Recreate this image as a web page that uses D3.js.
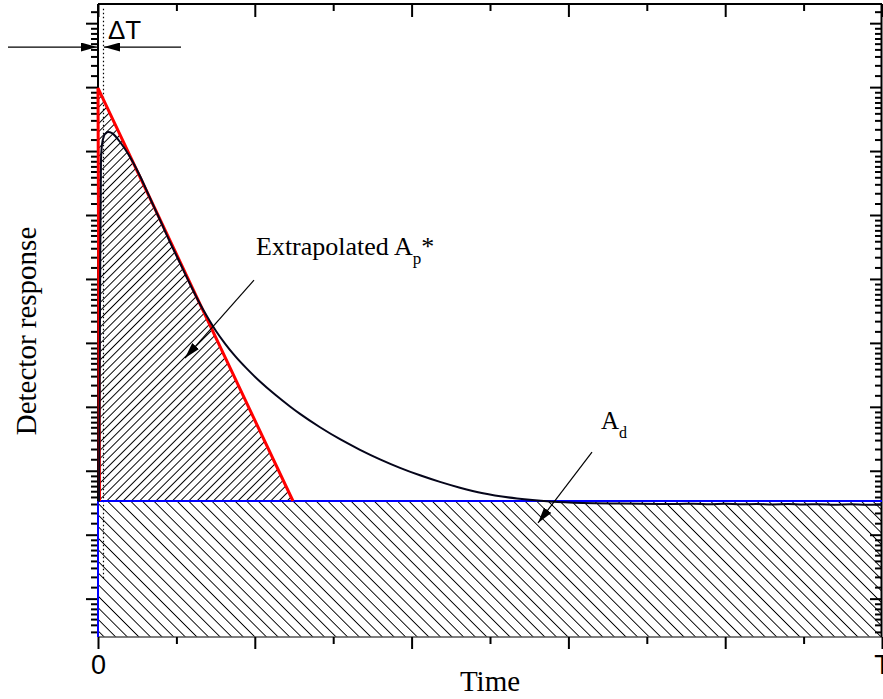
<!DOCTYPE html>
<html>
<head>
<meta charset="utf-8">
<script src="https://cdn.jsdelivr.net/npm/d3@7"></script>
<style>
  html, body { margin: 0; padding: 0; background: #fff; }
  svg { display: block; }
</style>
</head>
<body>
<svg id="chart" width="883" height="699"></svg>
<script>
// ---------------- data ----------------
const xMajorTicks = [0, 0.2, 0.4, 0.6, 0.8, 1.0];
const xTickLabels = ["0", "", "", "", "", "T"];
const xMinorTicks = [0.1, 0.3, 0.5, 0.7, 0.9];
const yMajorTicks = [1, 2, 3, 4, 5, 6, 7, 8, 9, 10];
const yMinorFractions = [0.18, 0.34, 0.48, 0.59, 0.68, 0.76, 0.84, 0.92];

// detector signal (time, response)
const sigX = [0.0, 0.0013, 0.0026, 0.0038, 0.0051, 0.0077, 0.0102, 0.0128, 0.0179, 0.0230, 0.0281,
  0.0344, 0.0408, 0.0536, 0.0663, 0.0791, 0.0918, 0.1046, 0.1173, 0.1301, 0.1403, 0.1505, 0.1620,
  0.1747, 0.1901, 0.2066, 0.2258, 0.2449, 0.2577, 0.2832, 0.3087, 0.3342, 0.3597, 0.3852, 0.4107,
  0.4362, 0.4617, 0.4911, 0.5344, 0.5765, 0.6186, 0.6658, 0.7168,
  0.74, 0.76, 0.78, 0.80, 0.82, 0.84, 0.86, 0.88, 0.90, 0.92, 0.94, 0.96, 0.98, 1.0];
const sigY = [2.53, 2.53, 5.67, 7.86, 8.10, 8.24, 8.28, 8.298, 8.282, 8.220, 8.142,
  8.032, 7.907, 7.610, 7.266, 6.922, 6.578, 6.249, 5.921, 5.608, 5.389, 5.186, 4.989,
  4.796, 4.593, 4.396, 4.191, 4.005, 3.889, 3.680, 3.493, 3.328, 3.179, 3.046, 2.929,
  2.826, 2.735, 2.647, 2.566, 2.519, 2.496, 2.488, 2.482,
  2.480, 2.485, 2.477, 2.483, 2.475, 2.481, 2.474, 2.479, 2.472, 2.477, 2.470, 2.476, 2.469, 2.472];

const baseline = 2.527;                    // blue baseline level
const extrapX = [0.0019, 0.0, 0.2487];     // red extrapolated triangle
const extrapY = [2.527, 8.986, 2.527];
const dottedX = 0.0070;                    // ΔT marker
const dottedY = [1.32, 10.24];

// ---------------- setup ----------------
const svg = d3.select("#chart");
const x = d3.scaleLinear().domain([0, 1]).range([98, 882]);
const y = d3.scaleLinear().domain([0.4, 10.3]).range([637, 4]);

const defs = svg.append("defs");
defs.append("pattern")
  .attr("id", "hatchFwd").attr("patternUnits", "userSpaceOnUse")
  .attr("width", 5.8).attr("height", 10)
  .attr("patternTransform", "rotate(45)")
  .append("line").attr("x1", 0).attr("y1", -1).attr("x2", 0).attr("y2", 11)
  .attr("stroke", "#000").attr("stroke-width", 1).attr("shape-rendering", "crispEdges");
defs.append("pattern")
  .attr("id", "hatchBack").attr("patternUnits", "userSpaceOnUse")
  .attr("width", 8.2).attr("height", 10)
  .attr("patternTransform", "rotate(-45)")
  .append("line").attr("x1", 0).attr("y1", -1).attr("x2", 0).attr("y2", 11)
  .attr("stroke", "#000").attr("stroke-width", 1).attr("shape-rendering", "crispEdges");

defs.append("marker")
  .attr("id", "arrowHead").attr("viewBox", "0 0 16 9").attr("refX", 16).attr("refY", 4.5)
  .attr("markerWidth", 16).attr("markerHeight", 9).attr("markerUnits", "userSpaceOnUse")
  .attr("orient", "auto")
  .append("path").attr("d", "M0,0 L16,4.5 L0,9 Z").attr("fill", "#000");

// ---------------- hatched areas ----------------
svg.append("rect")
  .attr("x", x(0)).attr("y", y(baseline))
  .attr("width", x(1) - x(0)).attr("height", y(0.4) - y(baseline))
  .attr("fill", "url(#hatchBack)");

const tri = extrapX.map((v, i) => [x(v), y(extrapY[i])]);
svg.append("path")
  .attr("d", "M" + tri.map(p => p.join(",")).join("L") + "Z")
  .attr("fill", "url(#hatchFwd)");

// ---------------- dotted ΔT line ----------------
svg.append("line")
  .attr("x1", x(dottedX)).attr("x2", x(dottedX))
  .attr("y1", y(dottedY[0])).attr("y2", y(dottedY[1]))
  .attr("stroke", "#000").attr("stroke-width", 1.2).attr("stroke-dasharray", "1.5,2.5");

// ---------------- axes frame ----------------
const frame = svg.append("g");
frame.append("line").attr("x1", x(0)).attr("x2", x(1)).attr("y1", y(10.3)).attr("y2", y(10.3))
  .attr("stroke", "#000").attr("stroke-width", 2);
frame.append("line").attr("x1", x(0)).attr("x2", x(1)).attr("y1", y(0.4)).attr("y2", y(0.4))
  .attr("stroke", "#555").attr("stroke-width", 1.5);
frame.append("line").attr("x1", x(0)).attr("x2", x(0)).attr("y1", y(0.4)).attr("y2", y(10.3))
  .attr("stroke", "#000").attr("stroke-width", 2);
frame.append("line").attr("x1", x(1) - 0.5).attr("x2", x(1) - 0.5).attr("y1", y(0.4)).attr("y2", y(10.3))
  .attr("stroke", "#000").attr("stroke-width", 2);

// y minor ticks
const yMinor = [];
for (let n = 0; n <= 10; n++) yMinorFractions.forEach(f => {
  const v = n + f; if (v > 0.4 && v < 10.3) yMinor.push(v);
});

function tickAxis(axisFn, scale, values, size, transform, labels) {
  const ax = axisFn(scale).tickValues(values).tickSize(size).tickSizeOuter(0);
  if (labels) ax.tickFormat((d, i) => labels[i]); else ax.tickFormat("");
  const g = svg.append("g").attr("transform", transform).call(ax);
  g.select(".domain").remove();
  g.selectAll(".tick line").attr("stroke", "#000").attr("stroke-width", 2);
  return g;
}
// left (outside)
tickAxis(d3.axisLeft, y, yMajorTicks, 12, `translate(${x(0)},0)`);
tickAxis(d3.axisLeft, y, yMinor, 7, `translate(${x(0)},0)`);
// right (inside)
tickAxis(d3.axisRight, y, yMajorTicks, -12, `translate(${x(1)},0)`);
tickAxis(d3.axisRight, y, yMinor, -7, `translate(${x(1)},0)`);
// bottom (outside)
const bx = tickAxis(d3.axisBottom, x, xMajorTicks, 12, `translate(0,${y(0.4)})`, xTickLabels);
bx.selectAll(".tick text")
  .attr("font-family", "'Liberation Sans', Arial, sans-serif")
  .attr("font-size", 27).attr("fill", "#000").attr("dy", 0).attr("y", 37);
tickAxis(d3.axisBottom, x, xMinorTicks, 7, `translate(0,${y(0.4)})`);
// top (inside)
tickAxis(d3.axisTop, x, xMajorTicks, -13, `translate(0,${y(10.3)})`);
tickAxis(d3.axisTop, x, xMinorTicks, -7, `translate(0,${y(10.3)})`);

// ---------------- baseline (blue) ----------------
svg.append("line")
  .attr("x1", x(0)).attr("x2", x(1)).attr("y1", y(baseline)).attr("y2", y(baseline))
  .attr("stroke", "#0000ff").attr("stroke-width", 2);
svg.append("line")
  .attr("x1", x(0)).attr("x2", x(0)).attr("y1", y(baseline)).attr("y2", y(0.4))
  .attr("stroke", "#0000ff").attr("stroke-width", 2);

// ---------------- red extrapolation ----------------
svg.append("path")
  .attr("d", "M" + tri.map(p => p.join(",")).join("L"))
  .attr("fill", "none").attr("stroke", "#ff0000").attr("stroke-width", 3)
  .attr("stroke-linejoin", "miter");

// ---------------- signal curve ----------------
const line = d3.line().x((d, i) => x(sigX[i])).y(d => y(d)).curve(d3.curveMonotoneX);
svg.append("path")
  .attr("d", line(sigY))
  .attr("fill", "none").attr("stroke", "#05051a").attr("stroke-width", 2);

// ---------------- annotations ----------------
const serif = "'Liberation Serif', 'Times New Roman', serif";
const sans = "'Liberation Sans', Arial, sans-serif";

// ΔT arrows
svg.append("line").attr("x1", 8).attr("y1", y(9.627)).attr("x2", 97).attr("y2", y(9.627))
  .attr("stroke", "#000").attr("stroke-width", 1.2).attr("marker-end", "url(#arrowHead)");
svg.append("line").attr("x1", 181).attr("y1", y(9.627)).attr("x2", 104).attr("y2", y(9.627))
  .attr("stroke", "#000").attr("stroke-width", 1.2).attr("marker-end", "url(#arrowHead)");
svg.append("text").attr("x", 108).attr("y", 39)
  .attr("font-family", sans).attr("font-size", 26).text("ΔT");

// Extrapolated A_p*
const t1 = svg.append("text").attr("x", 256).attr("y", 255)
  .attr("font-family", serif).attr("font-size", 26);
t1.append("tspan").text("Extrapolated A");
t1.append("tspan").attr("font-size", 17).attr("dy", 9).text("p");
t1.append("tspan").attr("dy", -9).text("*");
svg.append("line").attr("x1", x(0.1990)).attr("y1", y(5.983)).attr("x2", x(0.1110)).attr("y2", y(4.763))
  .attr("stroke", "#000").attr("stroke-width", 1.2).attr("marker-end", "url(#arrowHead)");

// A_d
const t2 = svg.append("text").attr("x", 601).attr("y", 429)
  .attr("font-family", serif).attr("font-size", 25);
t2.append("tspan").text("A");
t2.append("tspan").attr("font-size", 16).attr("dy", 9).text("d");
svg.append("line").attr("x1", x(0.6301)).attr("y1", y(3.293)).attr("x2", x(0.5612)).attr("y2", y(2.183))
  .attr("stroke", "#000").attr("stroke-width", 1.2).attr("marker-end", "url(#arrowHead)");

// axis titles
svg.append("text").attr("x", 490).attr("y", 691).attr("text-anchor", "middle")
  .attr("font-family", serif).attr("font-size", 29).text("Time");
svg.append("text").attr("transform", "translate(36,331) rotate(-90)").attr("text-anchor", "middle")
  .attr("font-family", serif).attr("font-size", 29).text("Detector response");
</script>
</body>
</html>
